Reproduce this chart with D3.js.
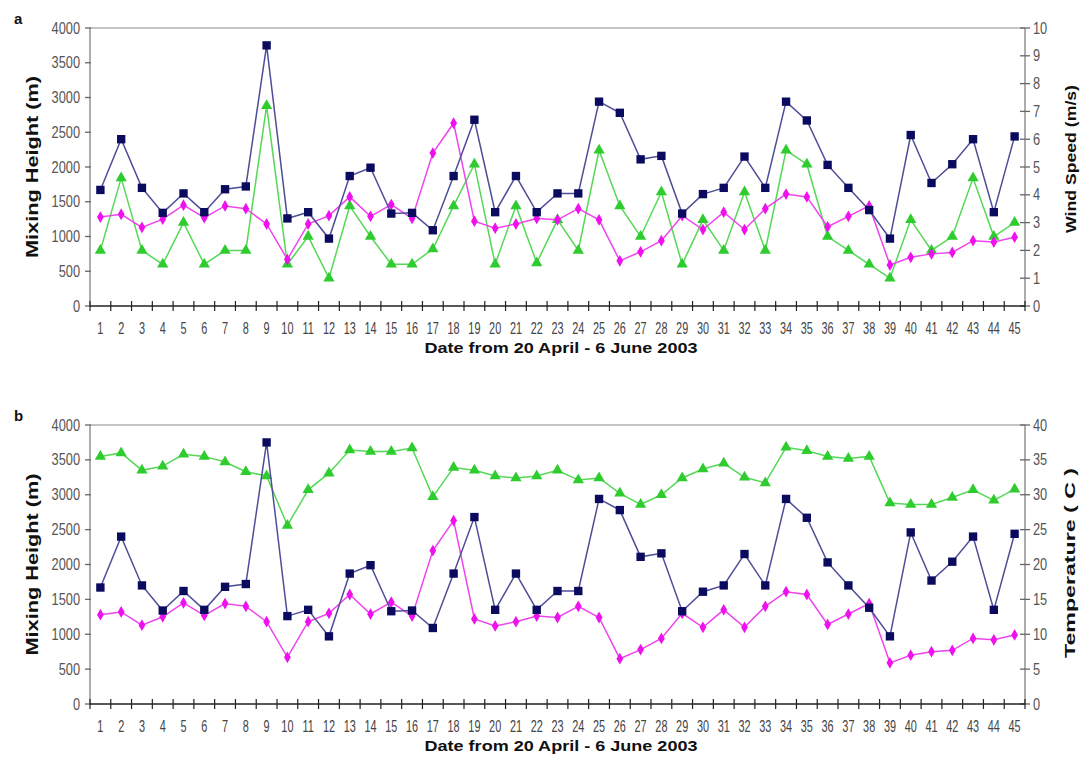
<!DOCTYPE html>
<html><head><meta charset="utf-8">
<script src="https://cdn.jsdelivr.net/npm/d3@7"></script>
<style>
html,body{margin:0;padding:0;background:#fff;}
svg{display:block;}
</style></head>
<body><svg id="c" width="1084" height="778"></svg>
<script>
const days = d3.range(1, 46);
const mixingHeight = [1670,2400,1700,1340,1620,1350,1680,1720,3750,1260,1350,970,1870,1990,1330,1340,1090,1870,2680,1350,1870,1350,1620,1620,2940,2780,2110,2160,1330,1610,1700,2150,1700,2940,2670,2030,1700,1380,970,2460,1770,2040,2400,1350,2440];
const mixingHeight2 = [1280,1320,1130,1250,1450,1270,1440,1400,1180,670,1180,1300,1570,1290,1460,1260,2200,2630,1220,1120,1180,1260,1240,1400,1240,650,780,940,1300,1100,1350,1100,1400,1610,1570,1140,1290,1440,590,700,750,770,940,920,990];
const windSpeed = [2.0,4.6,2.0,1.5,3.0,1.5,2.0,2.0,7.2,1.5,2.5,1.0,3.6,2.5,1.5,1.5,2.05,3.6,5.1,1.5,3.6,1.55,3.1,2.0,5.6,3.6,2.5,4.1,1.5,3.1,2.0,4.1,2.0,5.6,5.1,2.5,2.0,1.5,1.0,3.1,2.0,2.5,4.6,2.5,3.0];
const temperature = [35.5,36.0,33.5,34.1,35.8,35.5,34.7,33.3,32.7,25.6,30.7,33.1,36.4,36.2,36.2,36.7,29.7,33.9,33.5,32.7,32.4,32.7,33.5,32.1,32.4,30.2,28.6,30.0,32.4,33.7,34.5,32.5,31.7,36.8,36.3,35.5,35.2,35.5,28.8,28.6,28.6,29.6,30.7,29.2,30.8];
const leftTicks = [0,500,1000,1500,2000,2500,3000,3500,4000];
const windTicks = [0,1,2,3,4,5,6,7,8,9,10];
const tempTicks = [0,5,10,15,20,25,30,35,40];
const xTitle = "Date from 20 April - 6 June 2003";

const svg = d3.select("#c");
const tickFont = "'Liberation Sans', Arial, sans-serif";
const boldFont = "'Liberation Sans', Arial, sans-serif";

function drawPanel(o){
  const g = svg.append("g");
  const x = d3.scaleBand().domain(days).range([o.left, o.right]).padding(0);
  const cx = d => x(d) + x.bandwidth()/2;
  const yL = d3.scaleLinear().domain([0,4000]).range([o.bottom, o.top]);
  const yR = d3.scaleLinear().domain([0, o.rightMax]).range([o.bottom, o.top]);

  g.append("line").attr("x1",o.left).attr("x2",o.right).attr("y1",o.top).attr("y2",o.top)
    .attr("stroke","#8a8a8a").attr("stroke-width",1.2);
  g.append("line").attr("x1",o.left).attr("x2",o.left).attr("y1",o.top).attr("y2",o.bottom)
    .attr("stroke","#8a8a8a").attr("stroke-width",1.4);
  g.append("line").attr("x1",o.right).attr("x2",o.right).attr("y1",o.top).attr("y2",o.bottom)
    .attr("stroke","#8a8a8a").attr("stroke-width",1.4);
  leftTicks.forEach(t=>{
    g.append("line").attr("x1",o.left-5).attr("x2",o.left+1).attr("y1",yL(t)).attr("y2",yL(t))
      .attr("stroke","#666").attr("stroke-width",1.3);
    g.append("text").attr("transform",`translate(${o.left-10},${yL(t)+5.5}) scale(0.8,1)`)
      .attr("text-anchor","end").attr("font-family",tickFont).attr("font-size",16)
      .attr("fill","#555").text(t);
  });
  o.rightTicks.forEach(t=>{
    g.append("line").attr("x1",o.right-5).attr("x2",o.right+5).attr("y1",yR(t)).attr("y2",yR(t))
      .attr("stroke","#666").attr("stroke-width",1.3);
    g.append("text").attr("transform",`translate(${o.right+8},${yR(t)+5.5}) scale(0.8,1)`)
      .attr("text-anchor","start").attr("font-family",tickFont).attr("font-size",16)
      .attr("fill","#555").text(t);
  });
  g.append("line").attr("x1",o.left).attr("x2",o.right).attr("y1",o.bottom).attr("y2",o.bottom)
    .attr("stroke","#222").attr("stroke-width",1.4);
  const bounds = days.map(d=>x(d)).concat([x.range()[1]]);
  bounds.forEach(b=>{
    g.append("line").attr("x1",b).attr("x2",b).attr("y1",o.bottom-5).attr("y2",o.bottom+5)
      .attr("stroke","#222").attr("stroke-width",1.2);
  });
  days.forEach(d=>{
    g.append("text").attr("transform",`translate(${cx(d)},${o.bottom+28}) scale(0.68,1)`)
      .attr("text-anchor","middle").attr("font-family",tickFont).attr("font-size",16)
      .attr("fill","#444").text(d);
  });

  g.append("text").attr("transform",`translate(${o.leftTitleX},${(o.top+o.bottom)/2}) rotate(-90)`)
    .attr("text-anchor","middle").attr("font-family",boldFont).attr("font-weight","bold")
    .attr("font-size",16).attr("textLength",182).attr("lengthAdjust","spacingAndGlyphs")
    .attr("fill","#111").text("Mixing Height (m)");
  g.append("text").attr("transform",`translate(${o.rightTitleX},${o.rightTitleY}) rotate(-90)`)
    .attr("text-anchor","middle").attr("font-family",boldFont).attr("font-weight","bold")
    .attr("font-size",15).attr("textLength",o.rightTitleLen).attr("lengthAdjust","spacingAndGlyphs")
    .attr("fill","#111").text(o.rightTitle);
  g.append("text").attr("x",561).attr("y",o.bottom+47)
    .attr("text-anchor","middle").attr("font-family",boldFont).attr("font-weight","bold")
    .attr("font-size",15).attr("textLength",273).attr("lengthAdjust","spacingAndGlyphs")
    .attr("fill","#111").text(xTitle);
  g.append("text").attr("x",14).attr("y",o.top-4)
    .attr("font-family",boldFont).attr("font-weight","bold").attr("font-size",15)
    .attr("fill","#111").text(o.letter);

  const series = [
    {vals: o.greenVals, y: yR, line:"#55d855", fill:"#2ecc2e", shape:d3.symbolTriangle, size:55},
    {vals: mixingHeight2, y: yL, line:"#ee44ee", fill:"#ee11ee", shape:d3.symbolDiamond, size:40},
    {vals: mixingHeight, y: yL, line:"#4e4e98", fill:"#0a0a5e", shape:d3.symbolSquare, size:70}
  ];
  series.forEach(s=>{
    const pts = days.map((d,i)=>[cx(d), s.y(s.vals[i])]);
    g.append("path").attr("d", d3.line()(pts)).attr("fill","none")
      .attr("stroke",s.line).attr("stroke-width",1.5);
    g.selectAll(null).data(pts).enter().append("path")
      .attr("transform",p=>`translate(${p[0]},${p[1]})`)
      .attr("d", d3.symbol().type(s.shape).size(s.size)())
      .attr("fill",s.fill);
  });
}

drawPanel({top:28, bottom:306, left:90, right:1025, rightMax:10, rightTicks:windTicks,
  greenVals: windSpeed, rightTitle:"Wind Speed (m/s)", rightTitleLen:148, rightTitleX:1076, rightTitleY:159,
  leftTitleX:38, letter:"a"});
drawPanel({top:425, bottom:704, left:90, right:1025, rightMax:40, rightTicks:tempTicks,
  greenVals: temperature, rightTitle:"Temperature ( C )", rightTitleLen:190, rightTitleX:1075, rightTitleY:563,
  leftTitleX:38, letter:"b"});
</script>
</body></html>
